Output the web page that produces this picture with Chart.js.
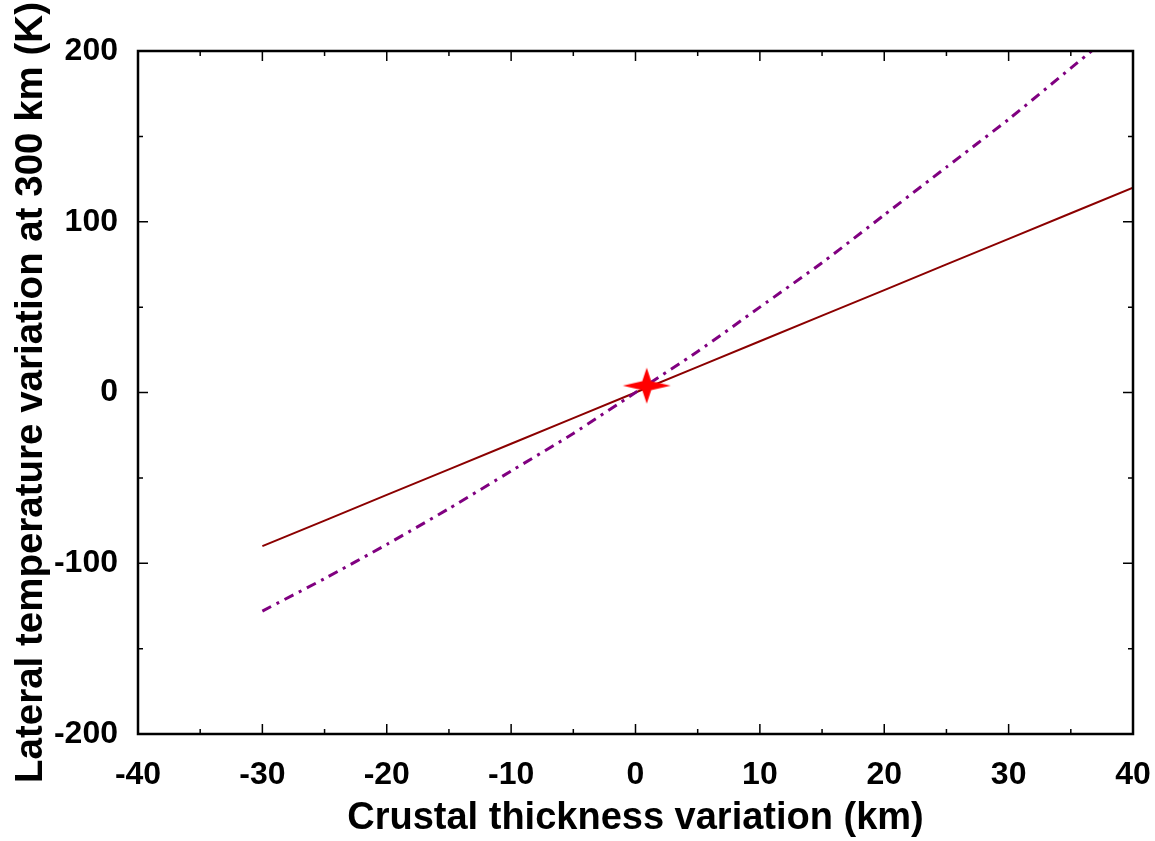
<!DOCTYPE html>
<html lang="en">
  <head>
    <meta charset="UTF-8" />
    <title>Temperature vs crustal thickness</title>
    <script src="https://cdn.jsdelivr.net/npm/chart.js"></script>
    <style>
      html, body { margin: 0; padding: 0; background: #fff; }
      #wrap { width: 1155px; height: 841px; position: relative; }
    </style>
  </head>
  <body>
    <div id="wrap">
      <canvas id="tempChart" width="1155" height="841"></canvas>
    </div>

    <script>
      // values
      const thicknessKm = [-30, -25, -20, -15, -10, -5, 0, 5, 10, 15, 20, 25, 30, 35, 40];
      const linearTempK = [-90, -75, -60, -45, -30, -15, 0, 15, 30, 45, 60, 75, 90, 105, 120];
      const nonlinearTempK = [-128, -109, -89, -68, -46, -24, 0, 24, 50, 76, 104, 132, 160, 190, 220];
      const starPoint = [{ x: 0.9, y: 4 }];

      const xRange = [-40, 40];
      const yRange = [-200, 200];
      const xMajor = 10, xMinor = 5;
      const yMajor = 100, yMinor = 50;

      const FONT = "'Liberation Sans', Arial, Helvetica, sans-serif";

      function toPoints(xs, ys) {
        return xs.map((x, i) => ({ x: x, y: ys[i] }));
      }

      // four-pointed red star used as the marker
      function makeStar() {
        const c = document.createElement("canvas");
        c.width = 50;
        c.height = 40;
        const g = c.getContext("2d");
        const cx = 25, cy = 20, rx = 24, ry = 18, r = 4.5;
        g.fillStyle = "#ff0000";
        g.beginPath();
        g.moveTo(cx + rx, cy);
        g.lineTo(cx + r, cy - r);
        g.lineTo(cx, cy - ry);
        g.lineTo(cx - r, cy - r);
        g.lineTo(cx - rx, cy);
        g.lineTo(cx - r, cy + r);
        g.lineTo(cx, cy + ry);
        g.lineTo(cx + r, cy + r);
        g.closePath();
        g.fill();
        return c;
      }

      // frame with inward ticks on all four sides
      const frameTicks = {
        id: "frameTicks",
        afterDatasetsDraw(chart) {
          const ctx = chart.ctx;
          const a = chart.chartArea;
          const xs = chart.scales.x, ys = chart.scales.y;
          ctx.save();
          ctx.strokeStyle = "#000";
          ctx.lineWidth = 1.5;
          ctx.beginPath();
          for (let v = xRange[0]; v <= xRange[1]; v += xMinor) {
            const px = xs.getPixelForValue(v);
            const len = v % xMajor === 0 ? 10 : 5;
            ctx.moveTo(px, a.bottom); ctx.lineTo(px, a.bottom - len);
            ctx.moveTo(px, a.top); ctx.lineTo(px, a.top + len);
          }
          for (let v = yRange[0]; v <= yRange[1]; v += yMinor) {
            const py = ys.getPixelForValue(v);
            const len = v % yMajor === 0 ? 10 : 5;
            ctx.moveTo(a.left, py); ctx.lineTo(a.left + len, py);
            ctx.moveTo(a.right, py); ctx.lineTo(a.right - len, py);
          }
          ctx.stroke();
          ctx.lineWidth = 2.5;
          ctx.strokeRect(a.left, a.top, a.right - a.left, a.bottom - a.top);
          ctx.restore();
        },
      };

      new Chart(document.getElementById("tempChart").getContext("2d"), {
        type: "line",
        data: {
          datasets: [
            {
              label: "linear",
              data: toPoints(thicknessKm, linearTempK),
              borderColor: "#8b0000",
              borderWidth: 2,
              pointRadius: 0,
              tension: 0,
              order: 2,
            },
            {
              label: "nonlinear",
              data: toPoints(thicknessKm, nonlinearTempK),
              borderColor: "#800080",
              borderWidth: 3,
              borderDash: [10, 6, 3, 6],
              pointRadius: 0,
              tension: 0.2,
              order: 1,
            },
            {
              label: "reference",
              data: starPoint,
              showLine: false,
              pointStyle: makeStar(),
              pointRadius: 20,
              order: 0,
            },
          ],
        },
        options: {
          responsive: false,
          animation: false,
          devicePixelRatio: 1,
          layout: { padding: { top: 51, right: 22, left: 0, bottom: 0 } },
          plugins: {
            legend: { display: false },
            tooltip: { enabled: false },
          },
          scales: {
            x: {
              type: "linear",
              min: xRange[0],
              max: xRange[1],
              afterFit(scale) {
                scale.height = 107;
                scale.paddingLeft = 0;
                scale.paddingRight = 0;
              },
              grid: { display: false, drawTicks: false },
              border: { display: false },
              ticks: {
                stepSize: xMajor,
                padding: 22,
                color: "#000",
                font: { family: FONT, size: 32, weight: "bold" },
                maxRotation: 0,
              },
              title: {
                display: true,
                text: "Crustal thickness variation (km)",
                color: "#000",
                font: { family: FONT, size: 38, weight: "bold" },
                padding: { top: 0, bottom: 0 },
              },
            },
            y: {
              min: yRange[0],
              max: yRange[1],
              afterFit(scale) {
                scale.width = 138;
                scale.paddingTop = 0;
                scale.paddingBottom = 0;
              },
              grid: { display: false, drawTicks: false },
              border: { display: false },
              ticks: {
                stepSize: yMajor,
                padding: 20,
                color: "#000",
                font: { family: FONT, size: 32, weight: "bold" },
              },
              title: {
                display: true,
                text: "Lateral temperature variation at 300 km (K)",
                color: "#000",
                font: { family: FONT, size: 38.5, weight: "bold" },
                padding: { top: 8, bottom: 0 },
              },
            },
          },
        },
        plugins: [frameTicks],
      });
    </script>
  </body>
</html>
